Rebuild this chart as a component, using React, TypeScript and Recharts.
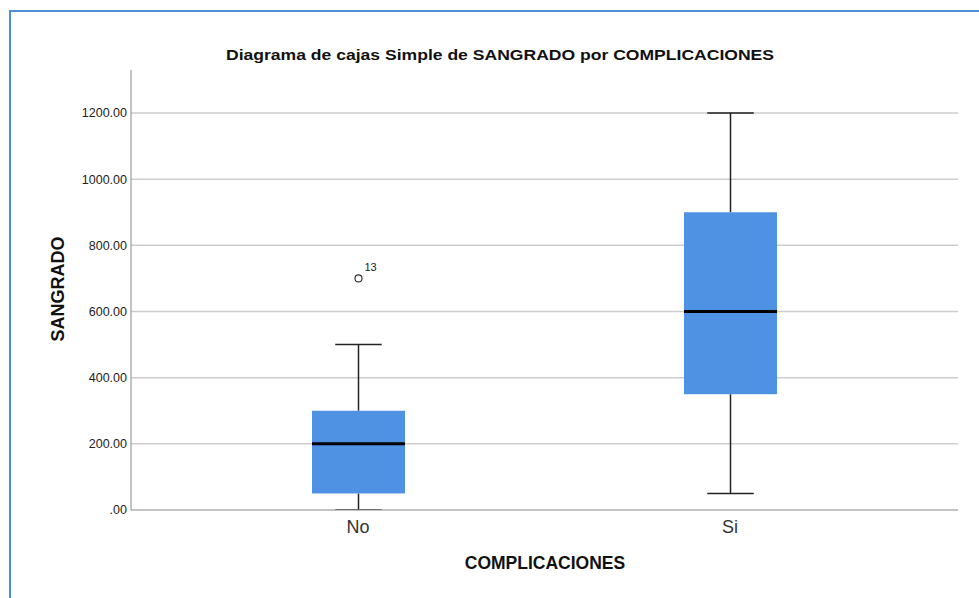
import { ComposedChart, Bar, XAxis, YAxis, CartesianGrid } from 'recharts';

const categories = ['No', 'Si'];
const minValues = [0, 50];
const q1Values = [50, 350];
const medianValues = [200, 600];
const q3Values = [300, 900];
const maxValues = [500, 1200];
const outlierValues = [[700], []];
const outlierLabels = [['13'], []];
const yTicks = [0, 200, 400, 600, 800, 1000, 1200];

const data = categories.map((cat, i) => ({
  cat,
  box: [q1Values[i], q3Values[i]],
  min: minValues[i],
  q1: q1Values[i],
  median: medianValues[i],
  q3: q3Values[i],
  max: maxValues[i],
  outliers: outlierValues[i],
  outlierLabels: outlierLabels[i],
}));

const font = '"Liberation Sans", Arial, sans-serif';

// draws the whole box plot from the bar's rectangle (q1..q3), using its pixel scale
const BoxShape = (props: any) => {
  const { x, y, width, height } = props;
  const p = props.payload ?? props;
  const top = Math.min(y, y + height);
  const h = Math.abs(height);
  const k = h / (p.q3 - p.q1);
  const yOf = (v: number) => top + (p.q3 - v) * k;
  const cx = x + width / 2;
  const capHalf = width / 4;
  return (
    <g>
      <line x1={cx} x2={cx} y1={yOf(p.max)} y2={yOf(p.q3)} stroke="#222" strokeWidth={1.5} />
      <line x1={cx} x2={cx} y1={yOf(p.q1)} y2={yOf(p.min)} stroke="#222" strokeWidth={1.5} />
      <line x1={cx - capHalf} x2={cx + capHalf} y1={yOf(p.max)} y2={yOf(p.max)} stroke="#222" strokeWidth={1.5} />
      <line x1={cx - capHalf} x2={cx + capHalf} y1={yOf(p.min)} y2={yOf(p.min)} stroke="#222" strokeWidth={1.5} />
      <rect x={x} y={top} width={width} height={h} fill="#4f91e2" />
      <line x1={x} x2={x + width} y1={yOf(p.median)} y2={yOf(p.median)} stroke="#000" strokeWidth={3} />
      {p.outliers.map((v: number, j: number) => (
        <g key={j}>
          <circle cx={cx} cy={yOf(v)} r={3.5} fill="#fff" stroke="#333" strokeWidth={1.2} />
          <text x={cx + 6} y={yOf(v) - 7} fontSize={11} fill="#222" fontFamily={font}>
            {p.outlierLabels[j]}
          </text>
        </g>
      ))}
    </g>
  );
};

export default function App() {
  return (
    <div style={{ position: 'absolute', left: 0, top: 0, width: 979, height: 598, background: '#fff', fontFamily: font, overflow: 'hidden' }}>
      <div style={{ position: 'absolute', left: 9, top: 10, right: 0, bottom: 0, borderTop: '2px solid #4a8fd8', borderLeft: '2px solid #4a8fd8' }} />
      <div style={{ position: 'absolute', left: 0, top: 46, width: 1000, textAlign: 'center', fontSize: 15, fontWeight: 'bold', color: '#111', transform: 'scaleX(1.17)', transformOrigin: '500px 0' }}>
        Diagrama de cajas Simple de SANGRADO por COMPLICACIONES
      </div>
      <div style={{ position: 'absolute', left: 58, top: 289, transform: 'translate(-50%, -50%) rotate(-90deg)', fontSize: 18, fontWeight: 'bold', color: '#111', whiteSpace: 'nowrap' }}>
        SANGRADO
      </div>
      <div style={{ position: 'absolute', left: 395, top: 553, width: 300, textAlign: 'center', fontSize: 17.5, fontWeight: 'bold', color: '#111' }}>
        COMPLICACIONES
      </div>
      <div style={{ position: 'absolute', left: 0, top: 0 }}>
        <ComposedChart width={979} height={598} data={data} margin={{ top: 70, right: 21, bottom: 58, left: 71 }}>
          <CartesianGrid
            vertical={false}
            stroke="#cdcdcd"
            strokeWidth={1.5}
            horizontalValues={yTicks.slice(1)}
          />
          <XAxis
            dataKey="cat"
            height={30}
            padding={{ left: 41, right: 42 }}
            tickLine={false}
            tickSize={0}
            tickMargin={10}
            stroke="#888"
            tick={{ fontSize: 18, fill: '#333', fontFamily: font }}
          />
          <YAxis
            width={60}
            domain={[0, 1330]}
            ticks={yTicks}
            allowDataOverflow
            tickLine={false}
            tickSize={0}
            tickMargin={4}
            stroke="#888"
            tick={{ fontSize: 12.5, fill: '#222', fontFamily: font }}
            tickFormatter={(v: number) => (v === 0 ? '.00' : v.toFixed(2))}
          />
          <Bar dataKey="box" barSize={93} shape={BoxShape} isAnimationActive={false} />
        </ComposedChart>
      </div>
    </div>
  );
}
